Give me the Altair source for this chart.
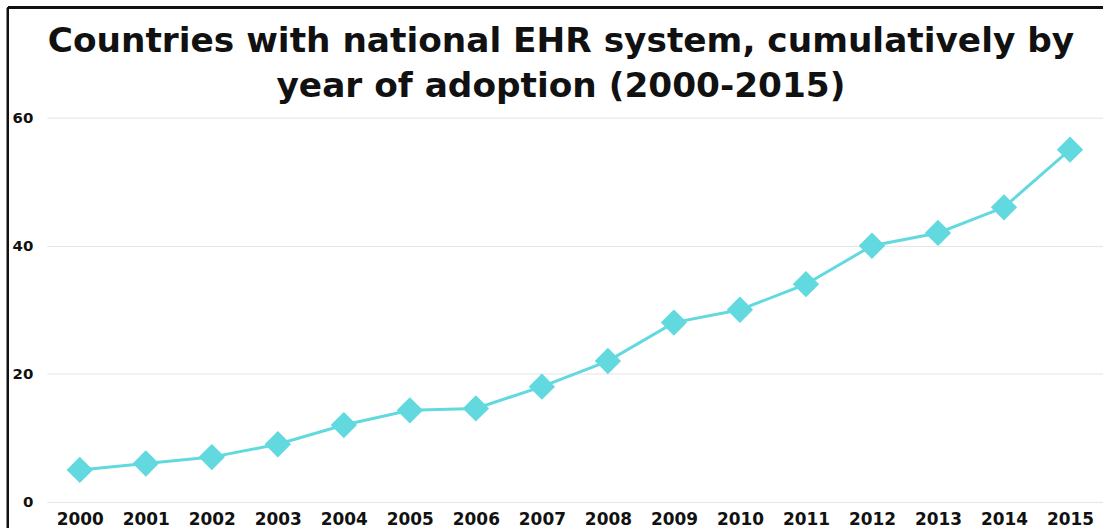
import altair as alt
import pandas as pd

years = [str(y) for y in range(2000, 2016)]
countries = [5, 6, 7, 9, 12, 14.3, 14.6, 18, 22, 28, 30, 34, 40, 42, 46, 55]

df = pd.DataFrame({"year": years, "countries": countries})

FONT = "DejaVu Sans"
COLOR = "#62d9df"

base = alt.Chart(df).encode(
    x=alt.X("year:O", scale=alt.Scale(type="point", padding=0.5),
            axis=alt.Axis(title=None, labelAngle=0, labelFont=FONT, labelFontWeight="bold",
                          labelFontSize=17, labelColor="#111", labelPadding=10,
                          domain=False, ticks=False, grid=False)),
    y=alt.Y("countries:Q", scale=alt.Scale(domain=[0, 60], nice=False),
            axis=alt.Axis(title=None, values=[0, 20, 40, 60], labelFont=FONT, labelFontWeight="bold",
                          labelFontSize=15, labelColor="#111", labelPadding=14,
                          domain=False, ticks=False, grid=True, gridColor="#e4e4e4")),
)

line = base.mark_line(color=COLOR, strokeWidth=3)
points = base.mark_point(shape="diamond", filled=True, size=700, color=COLOR, opacity=1)

border_top = alt.Chart(df).mark_rule(color="#111", strokeWidth=2).encode(
    x=alt.value(-39), x2=alt.value(1100), y=alt.value(-111), y2=alt.value(-111))
border_left = alt.Chart(df).mark_rule(color="#111", strokeWidth=2).encode(
    x=alt.value(-39), x2=alt.value(-39), y=alt.value(-111), y2=alt.value(420))

chart = alt.layer(line, points, border_top, border_left).properties(
    width=1061, height=386,
    title=alt.TitleParams(
        ["Countries with national EHR system, cumulatively by", "year of adoption (2000-2015)"],
        font=FONT, fontSize=34.5, fontWeight="bold", color="#111", anchor="middle",
        dx=-14, dy=113, offset=14, lineHeight=45),
    padding={"left": 47, "top": 117, "right": 0, "bottom": 25},
    autosize=alt.AutoSizeParams(type="none"),
    background="white",
).configure_view(stroke=None)

chart.save("out.html", embed_options={"renderer": "svg", "actions": False})
